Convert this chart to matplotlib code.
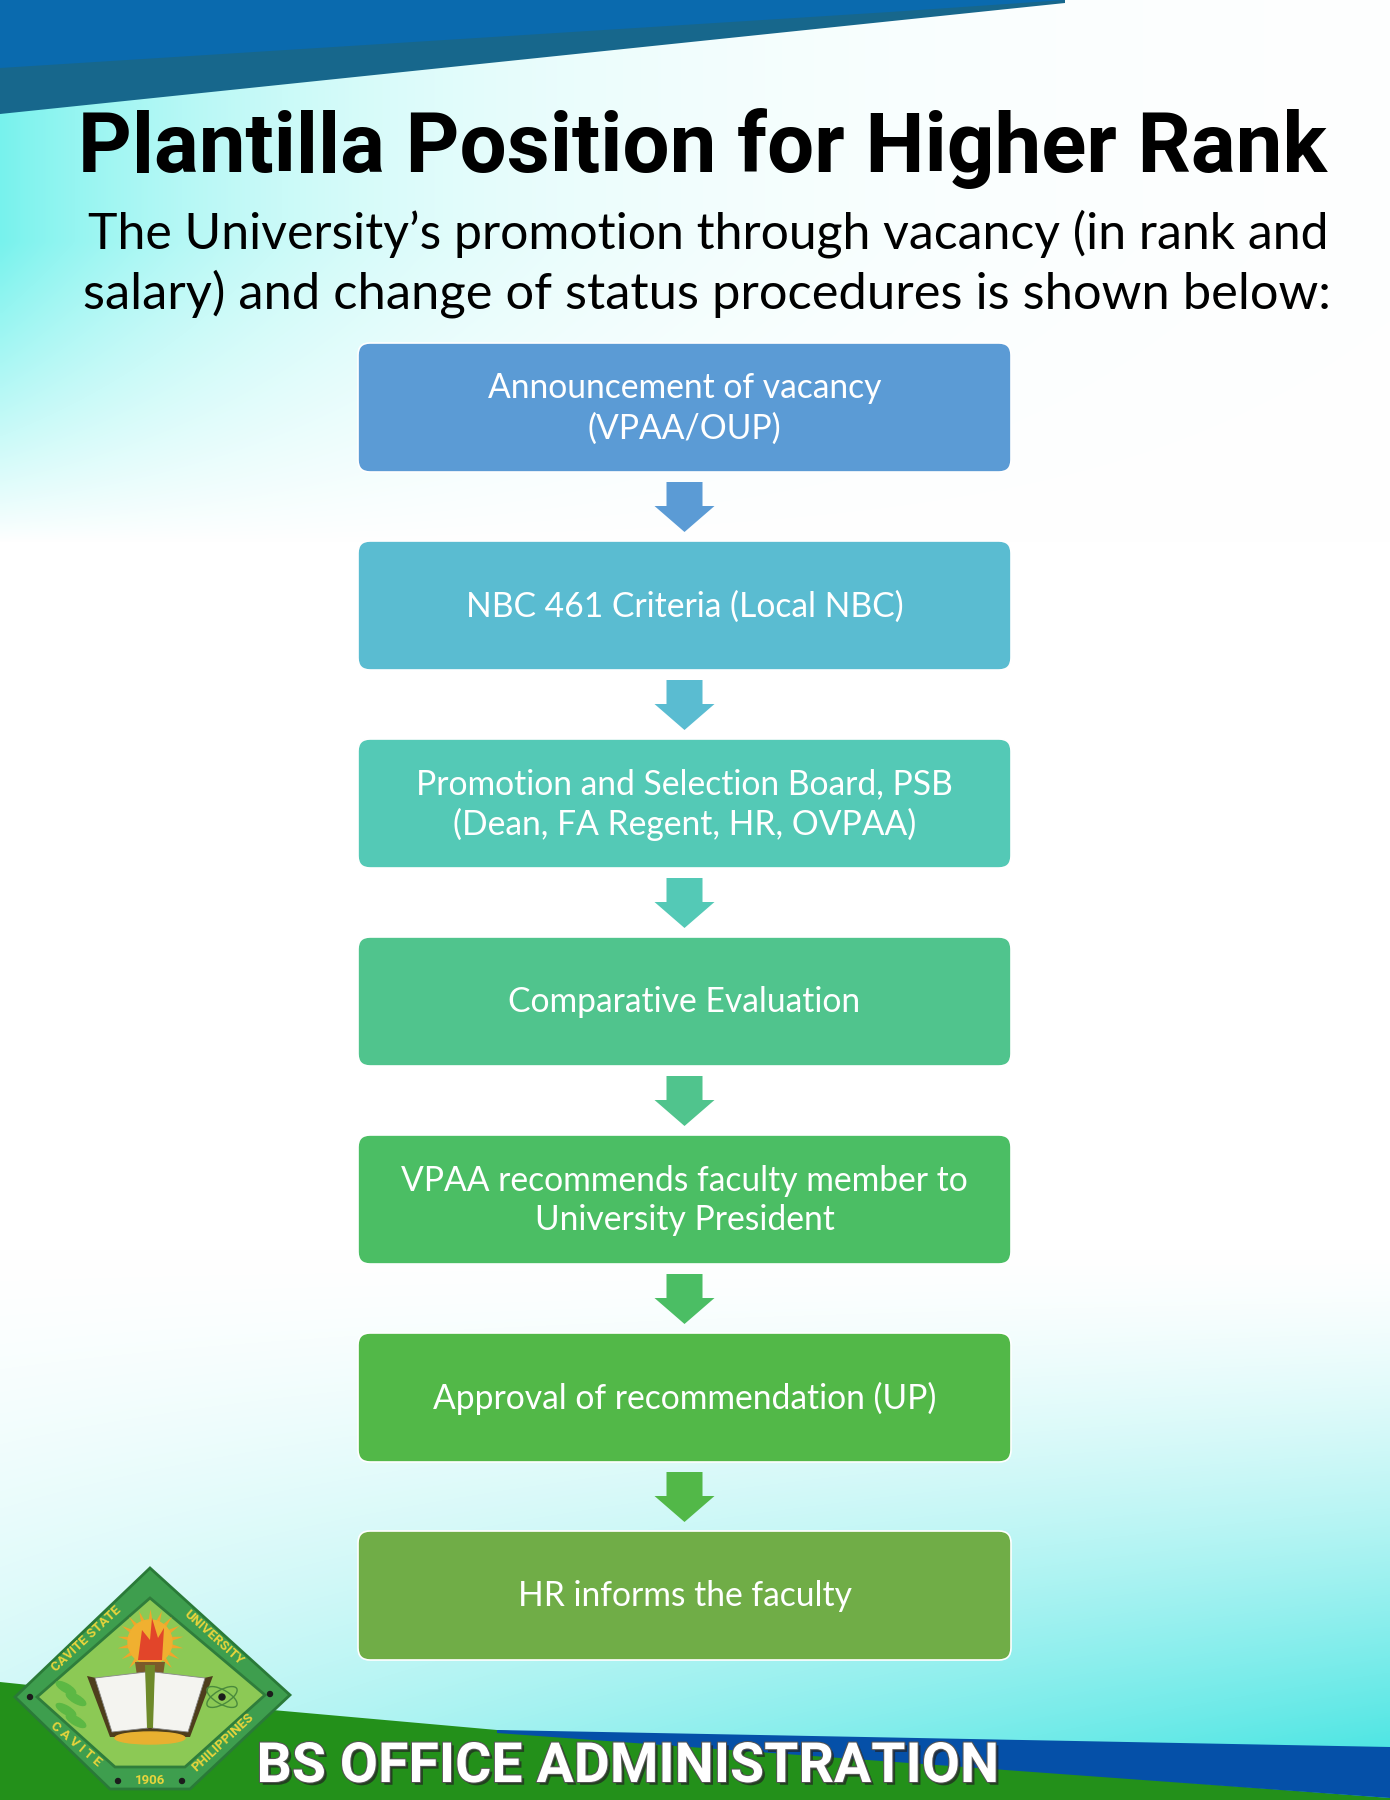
import matplotlib
matplotlib.use("Agg")
import matplotlib.pyplot as plt
import matplotlib.patheffects as pe
from matplotlib.patches import FancyBboxPatch, Polygon, Circle, Ellipse
import numpy as np

W, H = 1390, 1800

title = "Plantilla Position for Higher Rank"
subtitle = ["The University\u2019s promotion through vacancy (in rank and",
            "salary) and change of status procedures is shown below:"]
steps = ["Announcement of vacancy\n(VPAA/OUP)",
         "NBC 461 Criteria (Local NBC)",
         "Promotion and Selection Board, PSB\n(Dean, FA Regent, HR, OVPAA)",
         "Comparative Evaluation",
         "VPAA recommends faculty member to\nUniversity President",
         "Approval of recommendation (UP)",
         "HR informs the faculty"]
step_colors = ["#5B9BD5", "#5ABCD1", "#54C9B6", "#50C48D",
               "#4BBE64", "#52B848", "#70AD47"]
footer = "BS OFFICE ADMINISTRATION"

NARROW = ["Liberation Sans Narrow", "Roboto", "DejaVu Sans"]
BODY = ["Lato", "DejaVu Sans"]

fig = plt.figure(figsize=(W / 100, H / 100), dpi=100)
ax = fig.add_axes([0, 0, 1, 1])
ax.set_xlim(0, W)
ax.set_ylim(H, 0)
ax.axis("off")

# background gradient (white with cyan wash top-left and bottom-right)
yy, xx = np.mgrid[0:H:4, 0:W:4].astype(float)
w_tl = np.exp(-xx / 300.0) * np.clip((540 - yy) / 300.0, 0, 1) ** 0.9
w_br = np.clip((yy - 1250) / 500.0, 0, 1) ** 1.4 * (0.3 + 0.7 * xx / W)
cyan_tl = np.array([0.47, 0.95, 0.93])
cyan_br = np.array([0.30, 0.90, 0.89])
img = np.ones(xx.shape + (3,))
img = img * (1 - w_tl[..., None]) + cyan_tl * w_tl[..., None]
img = img * (1 - w_br[..., None]) + cyan_br * w_br[..., None]
ax.imshow(np.clip(img, 0, 1), extent=[0, W, H, 0], interpolation="bilinear",
          aspect="auto", zorder=0)

# top bands
ax.add_patch(Polygon([(0, 0), (1065, 0), (1065, 3), (0, 114)],
                     closed=True, color="#17678C", lw=0, zorder=1))
ax.add_patch(Polygon([(0, 0), (1065, 0), (890, 12), (0, 68)],
                     closed=True, color="#0A6AAE", lw=0, zorder=1))

# bottom bands
ax.add_patch(Polygon([(0, 1682), (250, 1708), (497, 1730), (1390, 1798),
                      (1390, 1800), (0, 1800)],
                     closed=True, color="#23901A", lw=0, zorder=1))
ax.add_patch(Polygon([(497, 1730), (1390, 1747), (1390, 1798), (497, 1733)],
                     closed=True, color="#0550A8", lw=0, zorder=1))

renderer = fig.canvas.get_renderer()


def fit_text(x, y, s, width, fs=40, **kw):
    t = ax.text(x, y, s, fontsize=fs, **kw)
    bb = t.get_window_extent(renderer)
    t.set_fontsize(fs * width / bb.width)
    return t


fit_text(703, 172, title, 1247, ha="center", va="baseline",
         family=NARROW, fontweight="bold", color="black", zorder=5)
fit_text(708, 248, subtitle[0], 1238, ha="center", va="baseline",
         family=BODY, fontweight="normal", color="black", zorder=5)
fit_text(707, 308, subtitle[1], 1246, ha="center", va="baseline",
         family=BODY, fontweight="normal", color="black", zorder=5)

# flow boxes and arrows
box_left, box_w, box_h = 358, 653, 129
top0, pitch = 343, 198
cx = box_left + box_w / 2

probe = ax.text(0, 0, steps[5], fontsize=20, family=BODY)
step_fs = 20 * 504 / probe.get_window_extent(renderer).width
probe.remove()

for i, (label, col) in enumerate(zip(steps, step_colors)):
    top = top0 + i * pitch
    ax.add_patch(FancyBboxPatch((box_left, top), box_w, box_h,
                                boxstyle="round,pad=0,rounding_size=12",
                                fc=col, ec="white", lw=1.2, zorder=3))
    ax.text(cx, top + box_h / 2 + 1, label, ha="center", va="center",
            fontsize=step_fs, family=BODY, color="white",
            linespacing=1.3, zorder=4)
    if i < len(steps) - 1:
        a0 = top + box_h + 10
        ax.add_patch(Polygon([(cx - 18, a0), (cx + 18, a0), (cx + 18, a0 + 24),
                              (cx + 30, a0 + 24), (cx, a0 + 50),
                              (cx - 30, a0 + 24), (cx - 18, a0 + 24)],
                             closed=True, color=col, lw=0, zorder=3))

# logo
ax.add_patch(Polygon([(150, 1568), (290, 1695), (190, 1789), (110, 1789), (15, 1697)],
                     closed=True, fc="#3E9E4E", ec="#2A7A38", lw=2, zorder=6))
ax.add_patch(Polygon([(150, 1598), (265, 1695), (185, 1767), (115, 1767), (37, 1697)],
                     closed=True, fc="#8CC955", ec="#2F7D3B", lw=2, zorder=6))
ytxt = dict(color="#E8D43C", fontsize=9.5, fontweight="bold", family=NARROW,
            ha="center", va="center", zorder=7)
ax.text(86, 1639, "CAVITE STATE", rotation=43, **ytxt)
ax.text(214, 1638, "UNIVERSITY", rotation=-42, **ytxt)
ax.text(76, 1744, "C A V I T E", rotation=-40, **ytxt)
ax.text(223, 1742, "PHILIPPINES", rotation=43, **ytxt)
ax.text(150, 1780, "1906", **ytxt)
for px, py in [(30, 1697), (270, 1694), (118, 1781), (182, 1781)]:
    ax.add_patch(Circle((px, py), 2.5, color="#1C1C1C", zorder=7))
ax.scatter([150], [1642], s=2300, marker=(18, 1, 0), c="#F2A52A", lw=0, zorder=7)
ax.add_patch(Circle((150, 1642), 22, color="#F0B030", zorder=7))
ax.add_patch(Polygon([(135, 1662), (165, 1662), (156, 1725), (144, 1725)],
                     closed=True, color="#7A5A2A", lw=0, zorder=8))
ax.add_patch(Polygon([(138, 1660), (142, 1630), (150, 1640), (152, 1618),
                      (158, 1638), (164, 1628), (162, 1660)],
                     closed=True, color="#E2452A", lw=0, zorder=8))
ax.add_patch(Polygon([(87, 1676), (150, 1690), (213, 1676), (190, 1737), (110, 1737)],
                     closed=True, color="#4E3E1C", lw=0, zorder=8))
ax.add_patch(Polygon([(95, 1678), (146, 1672), (148, 1728), (112, 1732)],
                     closed=True, fc="#F4F4F0", ec="#888", lw=0.6, zorder=9))
ax.add_patch(Polygon([(154, 1672), (205, 1678), (188, 1732), (152, 1728)],
                     closed=True, fc="#F4F4F0", ec="#888", lw=0.6, zorder=9))
ax.add_patch(Polygon([(145, 1665), (155, 1665), (153, 1728), (147, 1728)],
                     closed=True, color="#6E8A2A", lw=0, zorder=10))
ax.add_patch(Ellipse((150, 1738), 70, 12, color="#E8B030", zorder=8))
for k in range(4):
    ax.add_patch(Ellipse((66 + (k % 2) * 10, 1688 + k * 11), 22, 8, angle=30,
                         color="#5CB844", zorder=8))
ax.add_patch(Ellipse((222, 1697), 34, 14, angle=30, fill=False, ec="#4A8A3C", lw=1, zorder=8))
ax.add_patch(Ellipse((222, 1697), 34, 14, angle=-30, fill=False, ec="#4A8A3C", lw=1, zorder=8))
ax.add_patch(Circle((222, 1697), 3, color="#1C1C1C", zorder=8))

# footer text
fit_text(628, 1782, footer, 742, ha="center", va="baseline",
         family=NARROW, fontweight="bold", color="white", zorder=7,
         path_effects=[pe.withSimplePatchShadow(offset=(2, -2), shadow_rgbFace="#222222", alpha=0.7),
                       pe.Stroke(linewidth=1.5, foreground="#555555"), pe.Normal()])

fig.savefig("out.png", dpi=100)
